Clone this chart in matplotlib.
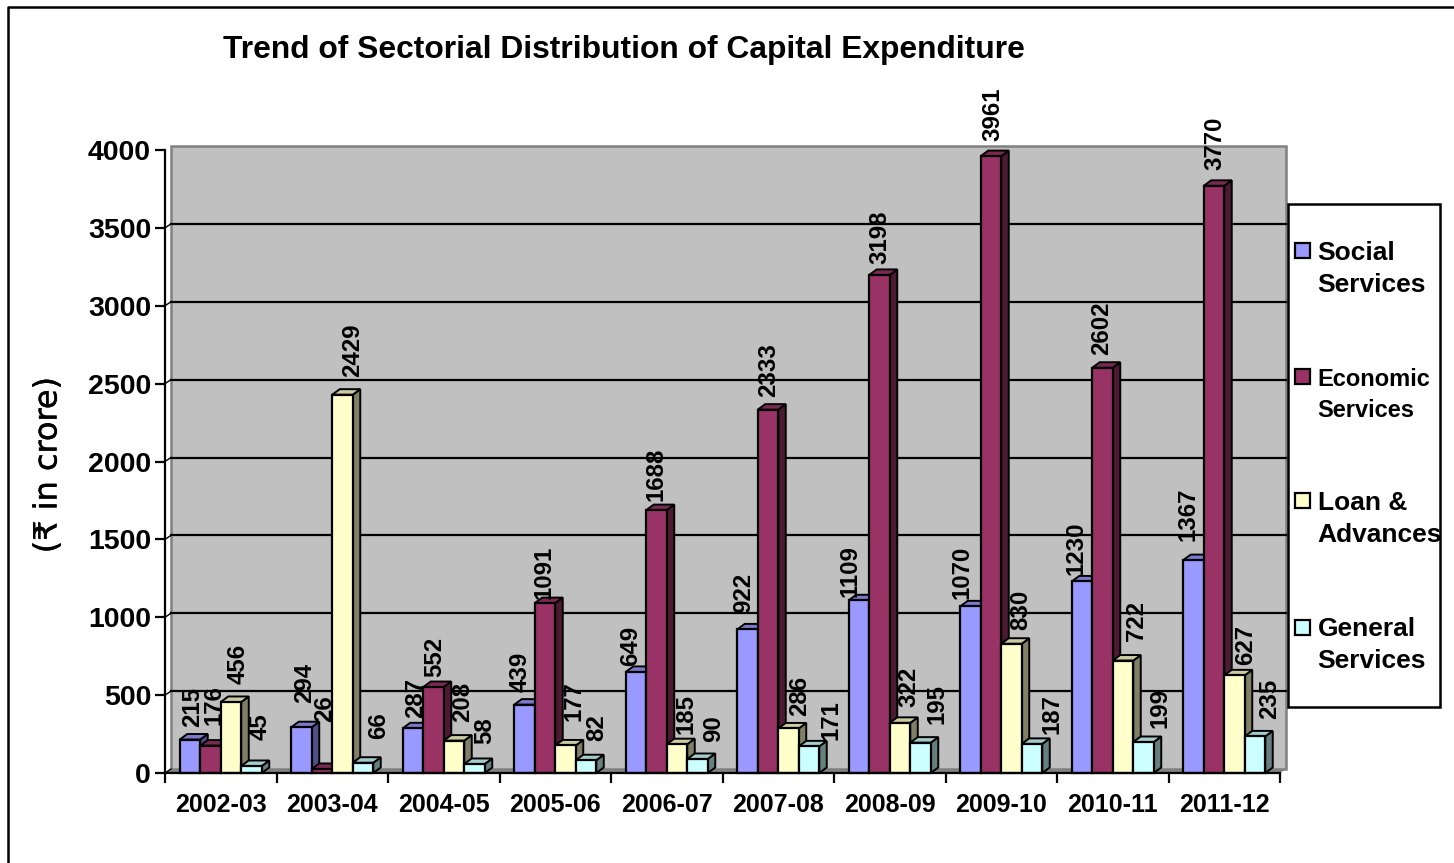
import matplotlib
matplotlib.use("Agg")
import matplotlib.pyplot as plt
import matplotlib.patheffects as pe
from matplotlib.patches import Rectangle, Polygon
from matplotlib.lines import Line2D

W, H = 1454, 863
categories = ["2002-03", "2003-04", "2004-05", "2005-06", "2006-07",
              "2007-08", "2008-09", "2009-10", "2010-11", "2011-12"]
social = [215, 294, 287, 439, 649, 922, 1109, 1070, 1230, 1367]
economic = [176, 26, 552, 1091, 1688, 2333, 3198, 3961, 2602, 3770]
loans = [456, 2429, 208, 177, 185, 286, 322, 830, 722, 627]
general = [45, 66, 58, 82, 90, 171, 195, 187, 199, 235]
series_names = ["Social\nServices", "Economic\nServices", "Loan &\nAdvances", "General\nServices"]
yticks = [0, 500, 1000, 1500, 2000, 2500, 3000, 3500, 4000]

# hand placement of the value labels, pixels from the top centre of each bar
label_dx = [
    [1, 1.5, 1, -5.5, -7, -5.5, -10, -9.5, -8, -7.5],
    [1.5, 1, -.5, -2, -1.5, -1, -1.5, 0, -2.5, -1],
    [6, 8.5, 7, 7.5, 8, 9.5, 7, 7.5, 12, 9.5],
    [7.5, 14, 8.5, 9, 14.5, 20, 14.5, 19, 14.5, 13],
]
label_dy = [
    [12.5, 24, 10, 12, 5, 16, 3, 7, 6, 19],
    [20.5, 46, 10, 4, 9, 12.5, 10, 15, 12.5, 15],
    [17, 17, 18, 24, 10, 11.5, 15, 13, 19.5, 10],
    [25, 23, 19, 19, 16, 6, 18.5, 9, 14, 17],
]

front = ["#9999FF", "#993366", "#FFFFCC", "#CCFFFF"]
side = ["#50508A", "#4D1A33", "#808066", "#668080"]
top = ["#7A7ACC", "#7A2952", "#CCCCA3", "#A3CCCC"]

plt.rcParams["font.family"] = ["Liberation Sans", "DejaVu Sans"]
fig = plt.figure(figsize=(W / 100, H / 100), dpi=100)
L, R, T, B = 165, 1280, 150, 773
ax = fig.add_axes([L / W, 1 - B / H, (R - L) / W, (B - T) / H])
ax.set_xlim(0, len(categories))
ax.set_ylim(0, 4000)
ax.patch.set_alpha(0)
ax.set_clip_on(False)

# pixel -> data scale factors
px = len(categories) / (R - L)
py = 4000 / (B - T)
wall_dx, wall_dy = 6 * px, 4 * py
bar_dx, bar_dy = 7.5 * px, 5.5 * py

n = len(categories)
# wall and floor
ax.add_patch(Polygon([(0, 0), (wall_dx, wall_dy), (wall_dx, 4000 + wall_dy), (0, 4000)],
                     closed=True, fc="white", ec="none", zorder=0.5, clip_on=False))
ax.add_patch(Rectangle((wall_dx, wall_dy), n, 4000, fc="#C0C0C0", ec="#808080", lw=1.8,
                       zorder=0.6, clip_on=False))
ax.add_patch(Polygon([(0, 0), (wall_dx, wall_dy), (n + wall_dx, wall_dy), (n, 0)],
                     closed=True, fc="#808080", ec="none", zorder=0.7, clip_on=False))
for v in yticks[1:-1]:
    ax.plot([wall_dx, n + wall_dx], [v + wall_dy] * 2, color="black", lw=1.6, zorder=1, clip_on=False)
for v in yticks[:-1]:
    ax.plot([0, wall_dx], [v, v + wall_dy], color="black", lw=1.0, zorder=1, clip_on=False)

# bars
bar_w = 20.5 * px
start = (1 - 4 * bar_w) / 2
all_series = [social, economic, loans, general]
z = 2.0
for s, vals in enumerate(all_series):
    for i, v in enumerate(vals):
        x0 = i + start + s * bar_w
        x1 = x0 + bar_w
        z += 0.01
        ax.add_patch(Polygon([(x1, 0), (x1 + bar_dx, bar_dy), (x1 + bar_dx, v + bar_dy), (x1, v)],
                             closed=True, fc=side[s], ec="black", lw=1.4, zorder=z, clip_on=False))
        ax.add_patch(Polygon([(x0, v), (x0 + bar_dx, v + bar_dy), (x1 + bar_dx, v + bar_dy), (x1, v)],
                             closed=True, fc=top[s], ec="black", lw=1.4, zorder=z, clip_on=False))
for s, vals in enumerate(all_series):
    xs = [i + start + (s + 0.5) * bar_w for i in range(n)]
    z = 3 + s * 0.1
    ax.bar(xs, vals, width=bar_w, color=front[s], edgecolor="black", linewidth=1.6, zorder=z, clip_on=False)
    for x, v, dx, dy in zip(xs, vals, label_dx[s], label_dy[s]):
        ax.annotate(str(v), (x, v), xytext=(dx + 1.5, dy + 0.5), textcoords="offset pixels",
                    rotation=90, ha="center", va="bottom", fontsize=17.3, fontweight="bold", zorder=6,
                    color="black", annotation_clip=False)

# axes
for sp in ("top", "right"):
    ax.spines[sp].set_visible(False)
for sp in ("left", "bottom"):
    ax.spines[sp].set_linewidth(1.6)
    ax.spines[sp].set_zorder(5)
ax.set_yticks(yticks)
ax.set_yticklabels([str(v) for v in yticks], fontsize=20.5, fontweight="bold")
ax.set_xticks(range(n + 1))
ax.set_xticklabels([])
ax.set_xticks([i + 0.5 for i in range(n)], minor=True)
ax.set_xticklabels(categories, minor=True, fontsize=18, fontweight="bold")
ax.tick_params(axis="y", length=7, width=1.6, pad=3)
ax.tick_params(axis="x", which="major", length=7.5, width=1.6)
ax.tick_params(axis="x", which="minor", length=0, pad=14.5)

# y title, title
fig.text(48 / W, 1 - 465 / H, "(\u20b9 in crore)", rotation=90, ha="center", va="center",
         fontsize=23, family="DejaVu Sans",
         path_effects=[pe.withStroke(linewidth=0.3, foreground="black")])
fig.text(624 / W, 1 - 50 / H, "Trend of Sectorial Distribution of Capital Expenditure",
         ha="center", va="center", fontsize=22.9, fontweight="bold")

# outer frame (open at the right and bottom)
fig.add_artist(Line2D([8 / W, 8 / W, 1], [0, 1 - 7 / H, 1 - 7 / H], color="black", lw=1.8))

# legend
fig.add_artist(Rectangle((1288 / W, 1 - 707 / H), 152 / W, 503 / H, transform=fig.transFigure,
                         fc="white", ec="black", lw=1.8, zorder=8))
leg_y = [269, 395, 519, 645]
swatch_y = [250.5, 377, 501, 627]
leg_fs = [19, 17, 19, 19]
for name, c, ty, sy, fs in zip(series_names, front, leg_y, swatch_y, leg_fs):
    fig.add_artist(Rectangle((1295 / W, 1 - (sy + 7.5) / H), 15 / W, 15 / H, transform=fig.transFigure,
                             fc=c, ec="black", lw=1.6, zorder=9))
    fig.text(1317.5 / W, 1 - ty / H, name, ha="left", va="center", fontsize=fs, fontweight="bold",
             linespacing=1.42, zorder=10)

fig.savefig("out.png", dpi=100)
